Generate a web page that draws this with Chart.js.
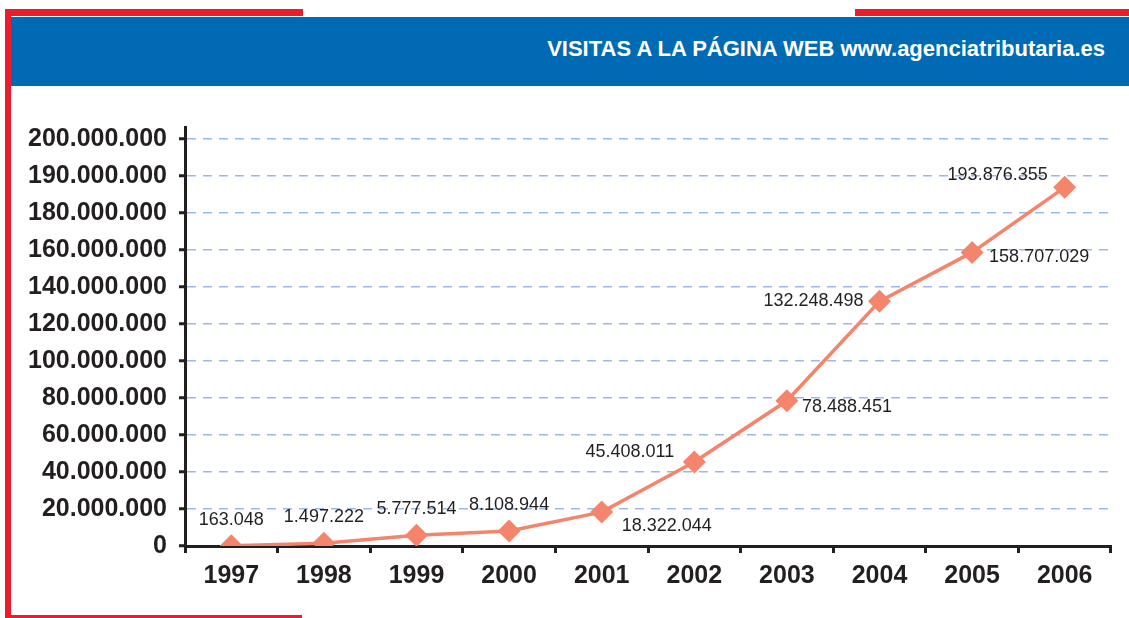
<!DOCTYPE html>
<html>
<head>
<meta charset="utf-8">
<script src="https://cdn.jsdelivr.net/npm/chart.js@4"></script>
<style>
  html, body { margin: 0; padding: 0; background: #ffffff; }
  body { width: 1129px; height: 618px; position: relative; overflow: hidden; font-family: "Liberation Sans", Arial, sans-serif; }
  .red { position: absolute; background: #ec1c2e; }
  #header { position: absolute; left: 11px; top: 17px; width: 1118px; height: 69px; background: #006ab4; }
  #title { position: absolute; right: 24px; top: 36px; color: #ffffff; font: bold 22px "Liberation Sans", Arial, sans-serif; white-space: nowrap; }
  #wrap { position: absolute; left: 0; top: 0; width: 1129px; height: 618px; }
</style>
</head>
<body>
<div class="red" style="left:5px; top:9px; width:298px; height:7px;"></div>
<div class="red" style="left:855px; top:9px; width:274px; height:7px;"></div>
<div class="red" style="left:5px; top:9px; width:6px; height:609px;"></div>
<div class="red" style="left:11px; top:615px; width:291px; height:3px;"></div>
<div id="header"></div>
<div id="title">VISITAS A LA PÁGINA WEB www.agenciatributaria.es</div>
<div id="wrap"><canvas id="c" width="1129" height="618"></canvas></div>
<script>
const years = ['1997', '1998', '1999', '2000', '2001', '2002', '2003', '2004', '2005', '2006'];
const visits = [163048, 1497222, 5777514, 8108944, 18322044, 45408011, 78488451, 132248498, 158707029, 193876355];
const visitLabels = ['163.048', '1.497.222', '5.777.514', '8.108.944', '18.322.044', '45.408.011', '78.488.451', '132.248.498', '158.707.029', '193.876.355'];
const yTickValues = [0, 20000000, 40000000, 60000000, 80000000, 100000000, 120000000, 140000000, 160000000, 180000000, 200000000, 220000000];
const yTickLabels = ['0', '20.000.000', '40.000.000', '60.000.000', '80.000.000', '100.000.000', '120.000.000', '140.000.000', '160.000.000', '180.000.000', '190.000.000', '200.000.000'];

// label placement relative to each point: [align, dx, dy]
const labelPlacement = [
  ['center', 0, -26], ['center', 0, -26], ['center', 0, -26], ['center', 0, -26],
  ['left', 20, 14], ['right', -20, -10], ['left', 15, 6], ['right', -16, 0],
  ['left', 17, 5], ['right', -17, -12]
];

const AXIS = '#231f20';

const dataLabelPlugin = {
  id: 'dataLabels',
  afterDatasetsDraw(chart) {
    const ctx = chart.ctx;
    const meta = chart.getDatasetMeta(0);
    ctx.save();
    ctx.font = '18px "Liberation Sans", Arial, sans-serif';
    ctx.fillStyle = '#231f20';
    ctx.textBaseline = 'middle';
    meta.data.forEach((pt, i) => {
      const p = labelPlacement[i];
      ctx.textAlign = p[0];
      ctx.fillText(visitLabels[i], pt.x + p[1], pt.y + p[2]);
    });
    ctx.restore();
  }
};

new Chart(document.getElementById('c'), {
  type: 'line',
  data: {
    labels: years,
    datasets: [{
      data: visits,
      borderColor: '#f4856c',
      backgroundColor: '#f4856c',
      borderWidth: 3.5,
      pointStyle: 'rectRot',
      pointRadius: 11.5,
      pointHoverRadius: 11.5,
      pointBorderWidth: 0,
      tension: 0
    }]
  },
  options: {
    responsive: false,
    animation: false,
    events: [],
    layout: { padding: { top: 127, right: 18, left: 0, bottom: 0 } },
    plugins: { legend: { display: false }, tooltip: { enabled: false }, title: { display: false } },
    scales: {
      x: {
        type: 'category',
        offset: true,
        grid: {
          offset: true,
          drawOnChartArea: false,
          drawTicks: true,
          tickLength: 7,
          tickColor: AXIS,
          tickWidth: 3
        },
        border: { display: true, color: AXIS, width: 3 },
        ticks: {
          color: AXIS,
          padding: 8,
          font: { family: '"Liberation Sans", Arial, sans-serif', size: 25, weight: 'bold' },
          maxRotation: 0
        },
        afterFit(scale) { scale.height = 72; }
      },
      y: {
        min: 0,
        max: 226500000,
        afterBuildTicks(scale) { scale.ticks = yTickValues.map(v => ({ value: v })); },
        grid: {
          color: '#9db9e6',
          lineWidth: 1.5,
          drawTicks: true,
          tickLength: 6,
          tickColor: AXIS,
          tickWidth: 3,
          tickBorderDash: [1, 0]
        },
        border: { display: true, color: AXIS, width: 3, dash: [9, 7] },
        ticks: {
          color: AXIS,
          padding: 12,
          font: { family: '"Liberation Sans", Arial, sans-serif', size: 25, weight: 'bold' },
          callback: (v, i) => yTickLabels[i]
        },
        afterFit(scale) { scale.width = 185; }
      }
    }
  },
  plugins: [dataLabelPlugin]
});
</script>
</body>
</html>
